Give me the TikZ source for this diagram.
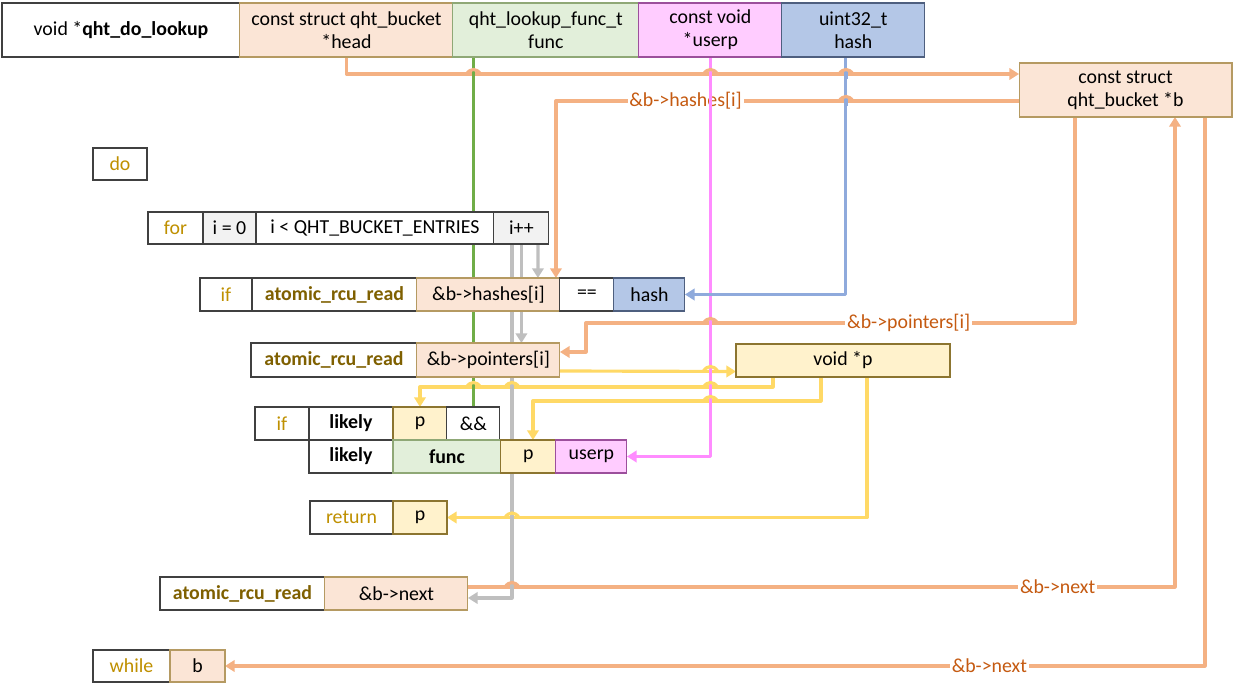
\documentclass[tikz,border=0pt]{standalone}
\usepackage{fontspec}
\setmainfont{Carlito}
\usetikzlibrary{positioning, arrows.meta, backgrounds}

\definecolor{peachfill}{HTML}{FBE5D6}
\definecolor{peachdraw}{HTML}{B59A62}
\definecolor{greenfill}{HTML}{E2EFDA}
\definecolor{greendraw}{HTML}{8FA876}
\definecolor{pinkfill}{HTML}{FFCCFF}
\definecolor{pinkdraw}{HTML}{9C4F9C}
\definecolor{bluefill}{HTML}{B4C7E7}
\definecolor{bluedraw}{HTML}{4E5F7F}
\definecolor{yelfill}{HTML}{FFF2CC}
\definecolor{yeldraw}{HTML}{8C7530}
\definecolor{grayfill}{HTML}{F2F2F2}
\definecolor{boxline}{HTML}{404040}
\definecolor{kwgold}{HTML}{BF9000}
\definecolor{fngold}{HTML}{7F6000}
\definecolor{lblorange}{HTML}{C55A11}
\definecolor{worange}{HTML}{F4B183}
\definecolor{wgreen}{HTML}{70AD47}
\definecolor{wpink}{HTML}{FF8CFF}
\definecolor{wblue}{HTML}{8FAADC}
\definecolor{wgray}{HTML}{BFBFBF}
\definecolor{wyellow}{HTML}{FFD966}

\newcommand{\boxfont}{\fontsize{11.3}{13}\selectfont}

\tikzstyle{cell} = [rectangle, draw=boxline, fill=white, line width=0.6pt,
inner sep=1pt, outer sep=0pt, align=center, minimum height=0.66cm, font=\boxfont]
\tikzstyle{peach} = [cell, fill=peachfill, draw=peachdraw]
\tikzstyle{greenc} = [cell, fill=greenfill, draw=greendraw]
\tikzstyle{pinkc} = [cell, fill=pinkfill, draw=pinkdraw]
\tikzstyle{bluec} = [cell, fill=bluefill, draw=bluedraw]
\tikzstyle{yel} = [cell, fill=yelfill, draw=yeldraw]
\tikzstyle{grayc} = [cell, fill=grayfill]
\tikzstyle{kw} = [cell, text=kwgold]
\tikzstyle{rcu} = [cell, text=fngold, font=\boxfont\bfseries]
\tikzstyle{wire} = [draw, line width=1.8pt, line join=round]
\tikzstyle{arrow} = [wire, -{Triangle[length=5.5pt,width=6.5pt]}]
\tikzstyle{lbl} = [fill=white, text=lblorange, inner sep=1pt, font=\boxfont]

% line hop: x, y, colour of the crossing line, colour of the line below
\newcommand{\hop}[4]{%
    \path [wire, #4] (#1,#2-5) -- (#1,#2+5);
    \path [wire, #3] (#1-7,#2) .. controls (#1-3,#2-6) and (#1+3,#2-6) .. (#1+7,#2);
}

\begin{document}
\begin{tikzpicture}[x=0.02cm, y=-0.02cm]
    \useasboundingbox (0,0) rectangle (1235,688);

    % signature
    \node [cell, anchor=west, minimum width=4.76cm, minimum height=1.08cm] (fn) at (2,30) {void *\textbf{qht\_do\_lookup}};
    \node [peach, right=0pt of fn, minimum width=4.26cm, minimum height=1.08cm] (phead) {const struct qht\_bucket\\*head};
    \node [greenc, right=0pt of phead, minimum width=3.72cm, minimum height=1.08cm] (pfunc) {qht\_lookup\_func\_t\\func};
    \node [pinkc, right=0pt of pfunc, minimum width=2.86cm, minimum height=1.08cm] (puserp) {const void\\*userp};
    \node [bluec, right=0pt of puserp, minimum width=2.86cm, minimum height=1.08cm] (phash) {uint32\_t\\hash};
    \node [peach, minimum width=4.26cm, minimum height=1.08cm] (bvar) at (1125.5,90) {const struct\\qht\_bucket *b};

    \node [kw, anchor=west, minimum width=1.08cm, minimum height=0.64cm] (kdo) at (93,164) {do};

    % for loop
    \node [kw, anchor=west, minimum width=1.10cm, minimum height=0.64cm] (kfor) at (148,228) {for};
    \node [grayc, right=0pt of kfor, minimum width=1.06cm, minimum height=0.64cm] (init) {i = 0};
    \node [cell, right=0pt of init, minimum width=4.76cm, minimum height=0.64cm] (cond) {i < QHT\_BUCKET\_ENTRIES};
    \node [grayc, right=0pt of cond, minimum width=1.10cm, minimum height=0.64cm] (incr) {i++};

    \node [kw, anchor=west, minimum width=1.04cm] (kif) at (200,294.5) {if};
    \node [rcu, right=0pt of kif, minimum width=3.30cm] (rcuh) {atomic\_rcu\_read};
    \node [peach, right=0pt of rcuh, minimum width=2.86cm] (hashes) {\&b->hashes[i]};
    \node [cell, right=0pt of hashes, minimum width=1.08cm] (eq) {==};
    \node [bluec, right=0pt of eq, minimum width=1.42cm] (hval) {hash};

    \node [rcu, anchor=west, minimum width=3.32cm, minimum height=0.68cm] (rcup) at (251,360) {atomic\_rcu\_read};
    \node [peach, right=0pt of rcup, minimum width=2.86cm, minimum height=0.68cm] (ptrs) {\&b->pointers[i]};
    \node [yel, minimum width=4.28cm] (pvar) at (843,360.5) {void *p};

    \node [kw, anchor=west, minimum width=1.08cm] (kif2) at (255,423.5) {if};
    \node [cell, right=0pt of kif2, minimum width=1.68cm, font=\boxfont\bfseries] (lik1) {likely};
    \node [yel, right=0pt of lik1, minimum width=1.08cm] (p1) {p};
    \node [cell, right=0pt of p1, minimum width=1.06cm] (andand) {\&\&};
    \node [cell, below=0pt of lik1, minimum width=1.68cm, font=\boxfont\bfseries] (lik2) {likely};
    \node [greenc, right=0pt of lik2, minimum width=2.16cm, font=\boxfont\bfseries] (callf) {func};
    \node [yel, right=0pt of callf, minimum width=1.10cm] (p2) {p};
    \node [pinkc, right=0pt of p2, minimum width=1.42cm] (uarg) {userp};

    \node [kw, anchor=west, minimum width=1.66cm] (kret) at (310,517.5) {return};
    \node [yel, right=0pt of kret, minimum width=1.08cm] (p3) {p};

    \node [rcu, anchor=west, minimum width=3.30cm] (rcun) at (160,593.5) {atomic\_rcu\_read};
    \node [peach, right=0pt of rcun, minimum width=2.86cm] (nxt) {\&b->next};

    \node [kw, anchor=west, minimum width=1.54cm, minimum height=0.64cm] (kwhile) at (93,666) {while};
    \node [peach, right=0pt of kwhile, minimum width=1.10cm, minimum height=0.64cm] (bval) {b};

    \begin{scope}[on background layer]
    % loop counter
    \path [arrow, wgray] ([xshift=0.33cm]incr.south) -- ([xshift=-0.44cm]hashes.north east);
    \path [arrow, wgray] (incr.south) -- (incr.south |- ptrs.north);
    \path [arrow, wgray] ([xshift=-0.19cm]incr.south) |- ([yshift=-0.09cm]nxt.east);
    % bucket
    \path [arrow, worange] ([yshift=-0.22cm]bvar.west) -| node [lbl, pos=0.36] {\&b->hashes[i]} ([xshift=-0.08cm]hashes.north east);
    % parameters
    \path [wire, wgreen] (andand.north |- pfunc.south) -- (andand.north);
    \path [arrow, wpink] (puserp.south) |- (uarg.east);
    \path [arrow, wblue] ([xshift=-0.15cm]phash.south) |- (hval.east);
    \path [arrow, worange] (phead.south) |- ([yshift=0.32cm]bvar.west);
    \path [arrow, worange] ([xshift=1.12cm]bvar.south west) |- node [lbl, pos=0.67] {\&b->pointers[i]} ([xshift=0.52cm, yshift=0.74cm]ptrs.east) |- ([yshift=0.16cm]ptrs.east);
    \path [arrow, worange] ([yshift=0.13cm]nxt.east) -| node [lbl, pos=0.417] {\&b->next} ([xshift=0.99cm]bvar.south);
    \path [arrow, worange] ([xshift=-0.54cm]bvar.south east) |- node [lbl, pos=0.61] {\&b->next} (bval.east);
    % pointer p
    \path [arrow, wyellow] ([yshift=-0.22cm]ptrs.east) -- ([yshift=-0.22cm]pvar.west);
    \path [arrow, wyellow] ([xshift=-1.4cm]pvar.south) -- ++(0,-0.2cm) -| (p1.north);
    \path [arrow, wyellow] ([xshift=-0.44cm]pvar.south) -- ++(0,-0.48cm) -| ([xshift=0.09cm]p2.north);
    \path [arrow, wyellow] ([xshift=0.48cm]pvar.south) |- (p3.east);
    % hops
    \foreach \x/\y/\hc/\vc in {473.5/74/worange/wgreen, 710.5/74/worange/wpink, 846/74/worange/wblue,
        846/101/worange/wblue, 710.5/323/worange/wpink,
        710.5/371/wyellow/wpink, 473.5/387/wyellow/wgreen, 512/387/wyellow/wgray,
        710.5/387/wyellow/wpink, 710.5/401/wyellow/wpink, 512/517.5/wyellow/wgray,
        512/587/worange/wgray}
        {\hop{\x}{\y}{\hc}{\vc}}
    \end{scope}
\end{tikzpicture}
\end{document}
